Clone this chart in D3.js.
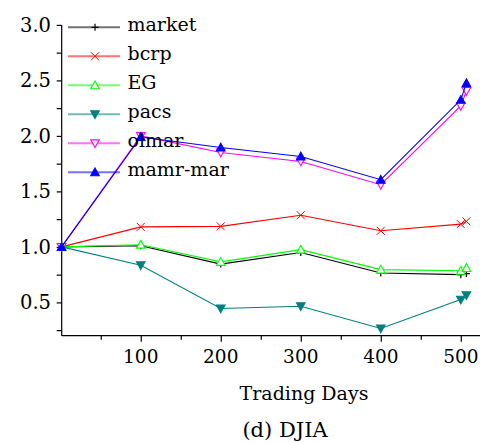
<!DOCTYPE html>
<html>
<head>
<meta charset="utf-8">
<script src="https://cdn.jsdelivr.net/npm/d3@7"></script>
<style>
  html, body { margin: 0; padding: 0; background: #fff; }
  svg { display: block; }
</style>
</head>
<body>
<svg id="chart" width="484" height="443"></svg>
<script>
// Cumulative wealth on DJIA over trading days
const days = [1, 100, 200, 300, 400, 500, 507];
const market = [1, 1.01, 0.845, 0.95, 0.765, 0.75, 0.76];
const bcrp = [1, 1.18, 1.185, 1.285, 1.145, 1.205, 1.23];
const eg = [1, 1.02, 0.865, 0.975, 0.795, 0.785, 0.81];
const pacs = [1, 0.835, 0.445, 0.465, 0.265, 0.525, 0.565];
const olmar = [1, 2.0, 1.85, 1.77, 1.56, 2.27, 2.405];
const mamr = [1, 1.99, 1.895, 1.815, 1.605, 2.325, 2.475];

const xTicks = [100, 200, 300, 400, 500];
const yTicks = [0.5, 1.0, 1.5, 2.0, 2.5, 3.0];
const xLabel = "Trading Days";
const caption = "(d) DJIA";
const serif = "DejaVu Serif";

const series = [
  { name: "market", values: market, color: "#000000", marker: "plus" },
  { name: "bcrp", values: bcrp, color: "#ff0000", marker: "cross" },
  { name: "EG", values: eg, color: "#00ff00", marker: "triUpOpen" },
  { name: "pacs", values: pacs, color: "#008080", marker: "triDownFill" },
  { name: "olmar", values: olmar, color: "#ff00ff", marker: "triDownOpen" },
  { name: "mamr-mar", values: mamr, color: "#0000ff", marker: "triUpFill" }
];

const svg = d3.select("#chart");
const x = d3.scaleLinear().domain([1.2, 524]).range([61.7, 480]);
const y = d3.scaleLinear().domain([0.2, 3.0]).range([335.7, 24.9]);

// axes
const xAxis = svg.append("g").attr("transform", "translate(0,335.7)");
xAxis.call(d3.axisBottom(x).tickValues(d3.range(50, 524, 50)).tickSize(4).tickFormat(""));
xAxis.selectAll(".tick line").attr("y2", d => (d % 100 === 0 ? 6 : 4));
xAxis.select(".domain").attr("d", `M${x(1.2)},0H480`);
xAxis.selectAll("path, line").attr("stroke", "#000").attr("stroke-width", 1.2);

const yAxis = svg.append("g").attr("transform", "translate(61.7,0)");
yAxis.call(d3.axisLeft(y).tickValues(d3.range(0.25, 3.01, 0.25)).tickSize(5).tickFormat(""));
yAxis.select(".domain").attr("d", `M0,${y(3.0)}V335.7`);
yAxis.selectAll("path, line").attr("stroke", "#000").attr("stroke-width", 1.2);

svg.append("g").selectAll("text").data(xTicks).join("text")
  .attr("x", d => x(d)).attr("y", 363)
  .attr("text-anchor", "middle").attr("font-size", 18.5).attr("font-family", serif)
  .text(d => d);

svg.append("g").selectAll("text").data(yTicks).join("text")
  .attr("x", 51).attr("y", d => y(d) + 7)
  .attr("text-anchor", "end").attr("font-size", 19.5).attr("font-family", serif)
  .text(d => d.toFixed(1));

svg.append("text").attr("x", 304).attr("y", 400).attr("font-family", serif)
  .attr("text-anchor", "middle").attr("font-size", 19).text(xLabel);
svg.append("text").attr("x", 285).attr("y", 437).attr("font-family", serif)
  .attr("text-anchor", "middle").attr("font-size", 21).text(caption);

// marker shapes
function drawMarker(g, type, color) {
  const s = 4.3;
  if (type === "plus") {
    g.append("path").attr("d", "M-3.5,0H3.5M0,-3.5V3.5")
      .attr("stroke", color).attr("stroke-width", 1.2).attr("fill", "none");
  } else if (type === "cross") {
    g.append("path").attr("d", "M-4,-4L4,4M-4,4L4,-4")
      .attr("stroke", color).attr("stroke-width", 1).attr("fill", "none");
  } else if (type === "triUpOpen" || type === "triUpFill") {
    g.append("path").attr("d", `M0,${-s}L${s},${s * 0.8}L${-s},${s * 0.8}Z`)
      .attr("stroke", color).attr("stroke-width", 1.1)
      .attr("fill", type === "triUpFill" ? color : "#fff");
  } else {
    g.append("path").attr("d", `M0,${s}L${s},${-s * 0.8}L${-s},${-s * 0.8}Z`)
      .attr("stroke", color).attr("stroke-width", 1.1)
      .attr("fill", type === "triDownFill" ? color : "#fff");
  }
}

const line = d3.line().x((d, i) => x(days[i])).y(d => y(d));
const plot = svg.append("g");
series.forEach(s => {
  const g = plot.append("g");
  g.append("path").datum(s.values).attr("d", line)
    .attr("fill", "none").attr("stroke", s.color).attr("stroke-width", 1.1);
  s.values.forEach((v, i) => {
    const m = g.append("g").attr("transform", `translate(${x(days[i])},${y(v)})`);
    drawMarker(m, s.marker, s.color);
  });
});

// legend
const legend = svg.append("g");
series.forEach((s, i) => {
  const ly = 27.3 + i * 29;
  const g = legend.append("g");
  g.append("line").attr("x1", 68).attr("x2", 120).attr("y1", ly).attr("y2", ly)
    .attr("stroke", s.color).attr("stroke-width", 2).attr("stroke-opacity", 0.55);
  const m = g.append("g").attr("transform", `translate(95,${ly})`);
  drawMarker(m, s.marker, s.color);
  g.append("text").attr("x", 127.5).attr("y", ly + 3.5).attr("font-size", 19)
    .attr("font-family", serif).text(s.name);
});
</script>
</body>
</html>
